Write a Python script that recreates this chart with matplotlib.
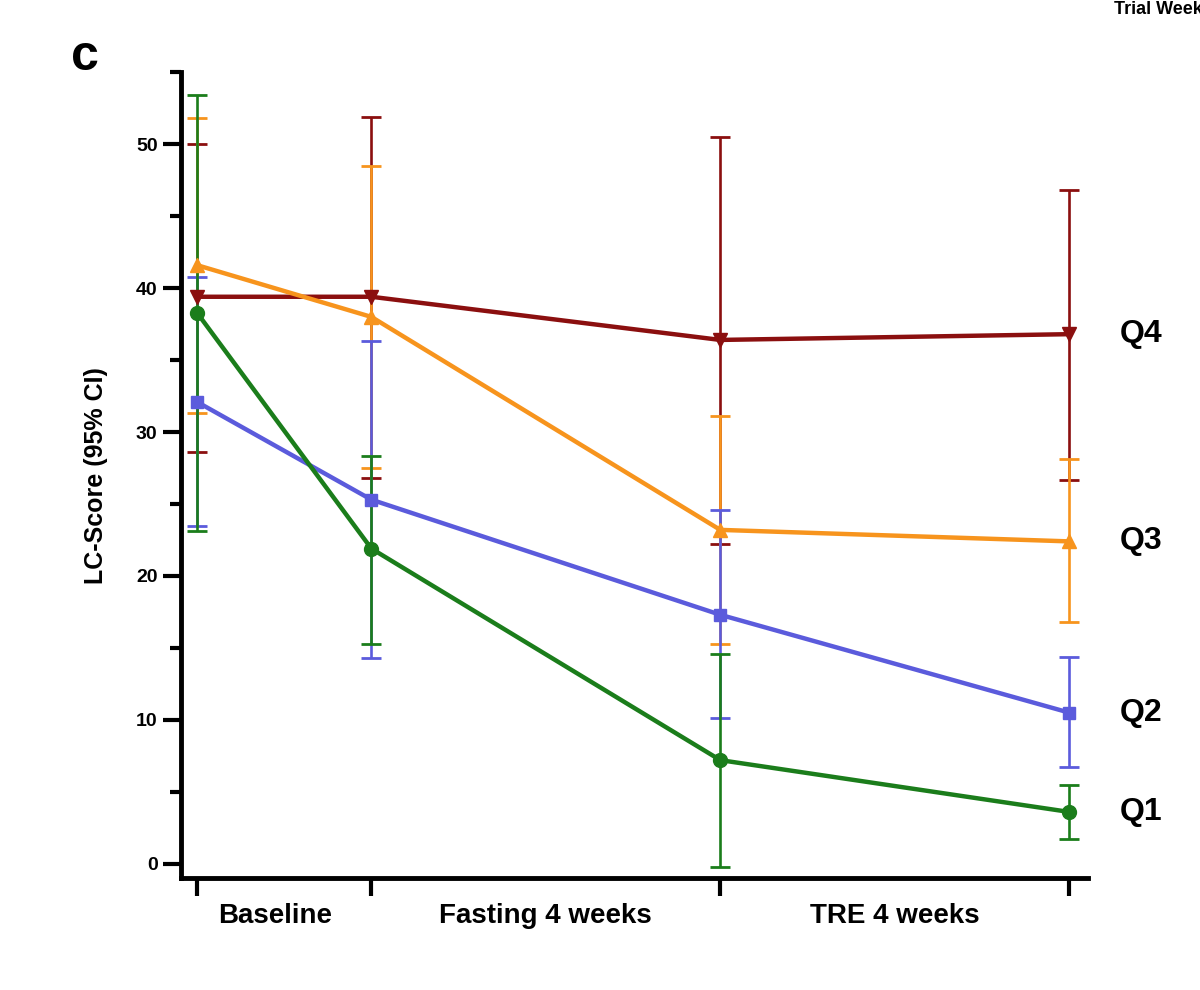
import matplotlib
matplotlib.use("Agg")
import matplotlib.pyplot as plt
import numpy as np

# trial timeline positions (week units scaled so Baseline..end spacing matches)
x_pos = [0, 1, 3, 5]
period_labels = ["Baseline", "Fasting 4 weeks", "TRE 4 weeks"]
period_centers = [0.45, 2.0, 4.0]

groups = ["Q4", "Q3", "Q2", "Q1"]
means = {
    "Q4": [39.4, 39.4, 36.4, 36.8],
    "Q3": [41.6, 38.0, 23.2, 22.4],
    "Q2": [32.1, 25.3, 17.3, 10.5],
    "Q1": [38.3, 21.9, 7.2, 3.6],
}
ci_low = {
    "Q4": [28.6, 26.8, 22.2, 26.7],
    "Q3": [31.3, 27.5, 15.3, 16.8],
    "Q2": [23.5, 14.3, 10.1, 6.7],
    "Q1": [23.1, 15.3, -0.2, 1.7],
}
ci_high = {
    "Q4": [50.0, 51.9, 50.5, 46.8],
    "Q3": [51.8, 48.5, 31.1, 28.1],
    "Q2": [40.8, 36.3, 24.6, 14.4],
    "Q1": [53.4, 28.3, 14.6, 5.5],
}
colors = {"Q4": "#8b0f0f", "Q3": "#f7941d", "Q2": "#5b5bdc", "Q1": "#1b7d1b"}
markers = {"Q4": "v", "Q3": "^", "Q2": "s", "Q1": "o"}
msizes = {"Q4": 10, "Q3": 10, "Q2": 9, "Q1": 10}

plt.rcParams['font.family'] = ['Liberation Sans', 'DejaVu Sans']

fig = plt.figure(figsize=(12, 9.9), dpi=100)
ax = fig.add_axes([0.151, 0.113, 0.756, 0.814])

for g in groups:
    m = np.array(means[g])
    lo = m - np.array(ci_low[g])
    hi = np.array(ci_high[g]) - m
    ax.errorbar(x_pos, m, yerr=[lo, hi], color=colors[g], lw=3.2,
                elinewidth=1.9, capsize=7, capthick=2, marker=markers[g],
                markersize=msizes[g], clip_on=False)
    ax.text(x_pos[-1] + 0.29, m[-1], g, fontsize=23, fontweight='bold',
            va='center', ha='left')

ax.set_xlim(-0.09, 5.11)
ax.set_ylim(-1, 55)
ax.set_yticks([0, 10, 20, 30, 40, 50])
ax.set_yticks([5, 15, 25, 35, 45, 55], minor=True)
ax.set_xticks(x_pos)
ax.set_xticklabels([])
ax.tick_params(axis='y', which='major', length=13, width=3, labelsize=14, pad=4)
ax.tick_params(axis='y', which='minor', length=8, width=3)
ax.tick_params(axis='x', length=13, width=3)
for lbl in ax.get_yticklabels():
    lbl.set_fontweight('bold')

for s in ['top', 'right']:
    ax.spines[s].set_visible(False)
for s in ['left', 'bottom']:
    ax.spines[s].set_linewidth(3.5)

for c, t in zip(period_centers, period_labels):
    ax.text(c, -0.031, t, transform=ax.get_xaxis_transform(), ha='center',
            va='top', fontsize=20, fontweight='bold')

ax.set_ylabel("LC-Score (95% CI)", fontsize=18, fontweight='bold', labelpad=20)

fig.text(0.059, 0.942, "c", fontsize=36, fontweight='bold', va='center')
fig.text(0.928, 0.99, "Trial Week", fontsize=13, fontweight='bold', va='center')

fig.savefig("out.png", dpi=100)
